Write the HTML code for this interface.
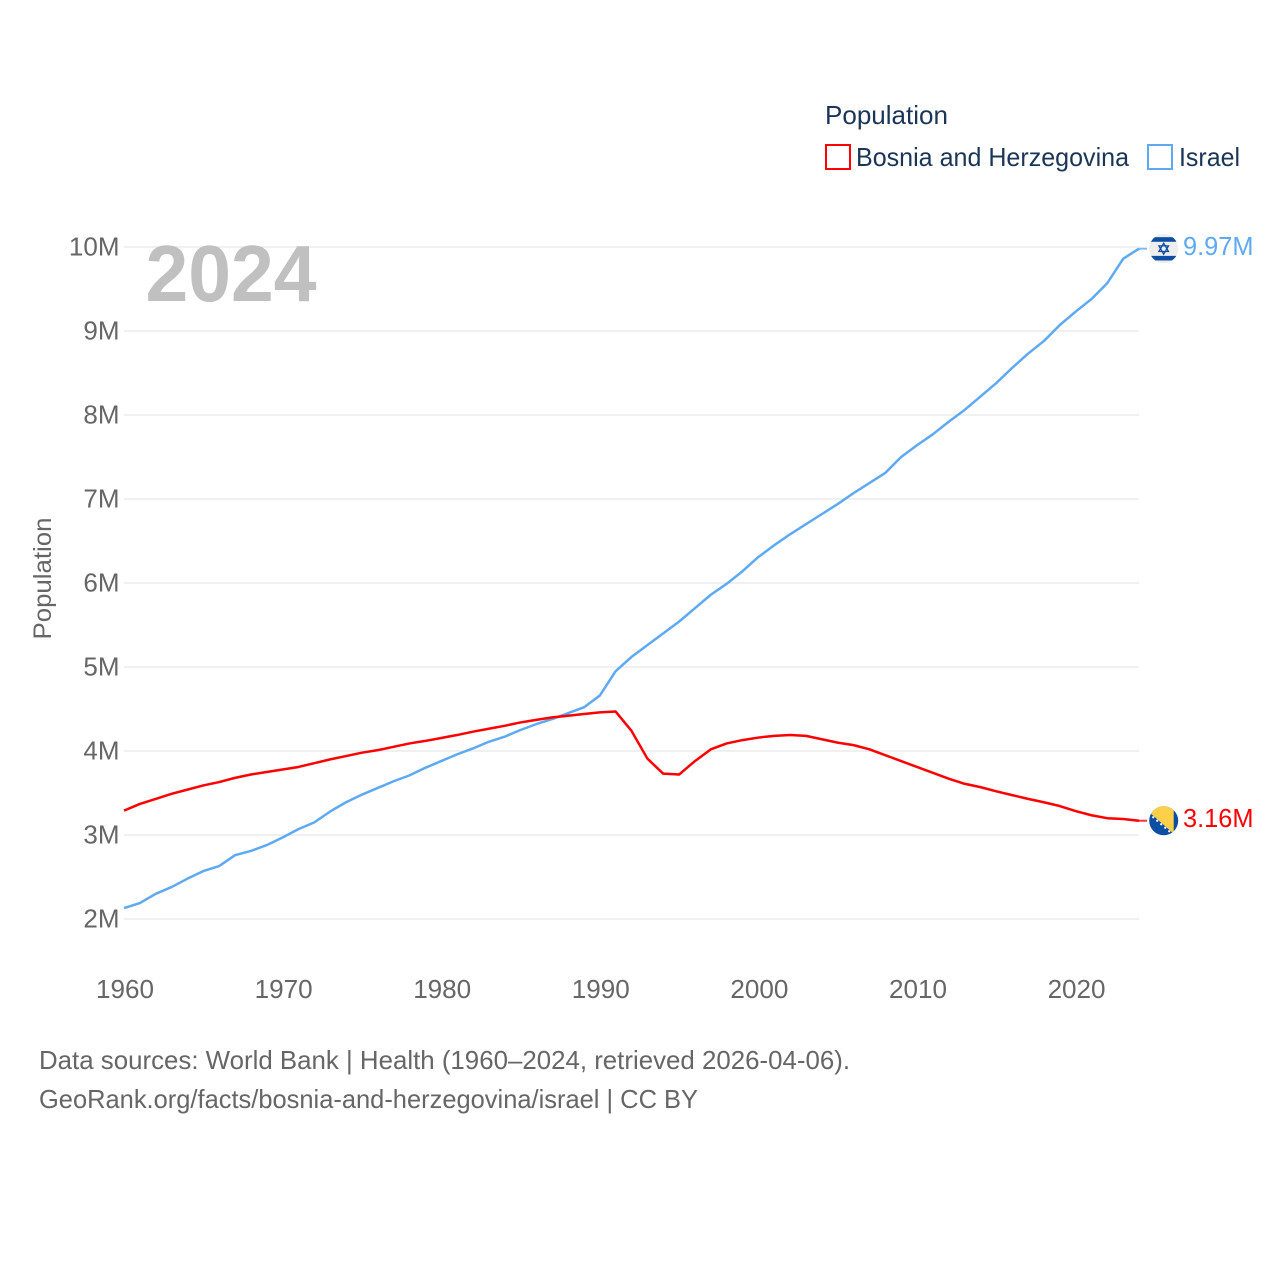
<!DOCTYPE html>
<html lang="en">
<head>
<meta charset="utf-8">
<title>Population: Bosnia and Herzegovina vs Israel</title>
<style>
  html, body { margin: 0; padding: 0; background: #fff; }
  svg { display: block; font-family: "Liberation Sans", sans-serif; }
</style>
</head>
<body>
<svg id="chart" xmlns="http://www.w3.org/2000/svg" width="1280" height="1280" viewBox="0 0 1280 1280">
  <rect x="0" y="0" width="1280" height="1280" fill="#ffffff"/>

  <g id="grid"></g>
  <g id="y-ticks"></g>
  <g id="x-ticks"></g>

  <text x="145.5" y="301" font-size="80" font-weight="700" fill="#bdbdbd" fill-opacity="0.95" textLength="171" lengthAdjust="spacingAndGlyphs">2024</text>

  <text transform="translate(51 639.5) rotate(-90)" font-size="25" fill="#666666" textLength="122" lengthAdjust="spacingAndGlyphs">Population</text>

  <g>
    <text x="825" y="124" font-size="26" fill="#1b3557" textLength="123" lengthAdjust="spacingAndGlyphs">Population</text>
    <rect x="826" y="145" width="24" height="24" fill="none" stroke="#ff0000" stroke-width="2"/>
    <text x="856" y="166" font-size="26" fill="#1b3557" textLength="273" lengthAdjust="spacingAndGlyphs">Bosnia and Herzegovina</text>
    <rect x="1148" y="145" width="24" height="24" fill="none" stroke="#5ea9f2" stroke-width="2"/>
    <text x="1179" y="166" font-size="26" fill="#1b3557" textLength="61" lengthAdjust="spacingAndGlyphs">Israel</text>
  </g>

  <g id="series"></g>

  <defs>
    <clipPath id="flag-clip"><circle cx="0" cy="0" r="14.5"/></clipPath>
  </defs>

  <g id="flag-israel">
    <g clip-path="url(#flag-clip)">
      <rect x="-15" y="-15" width="30" height="30" fill="#eeeeee"/>
      <rect x="-15" y="-11.5" width="30" height="4.6" fill="#0b4ea2"/>
      <rect x="-15" y="7.2" width="30" height="4.6" fill="#0b4ea2"/>
      <polygon points="0,-5.5 4.8,2.8 -4.8,2.8" fill="none" stroke="#0b4ea2" stroke-width="1.3"/>
      <polygon points="0,5.5 4.8,-2.8 -4.8,-2.8" fill="none" stroke="#0b4ea2" stroke-width="1.3"/>
    </g>
  </g>

  <g id="flag-bosnia">
    <g clip-path="url(#flag-clip)">
      <rect x="-15" y="-15" width="30" height="30" fill="#0b4ea2"/>
      <polygon points="-15,-16 10,-16 10,13 -15,-9" fill="#fed04a"/>
      <circle cx="-10.5" cy="-3.5" r="1.1" fill="#ffffff"/>
      <circle cx="-6.5" cy="0" r="1.1" fill="#ffffff"/>
      <circle cx="-2.5" cy="3.5" r="1.1" fill="#ffffff"/>
      <circle cx="1.5" cy="7" r="1.1" fill="#ffffff"/>
      <circle cx="5.5" cy="10.5" r="1.1" fill="#ffffff"/>
    </g>
  </g>

  <text id="end-label-israel" x="1183" font-size="26" fill="#5ea9f2" textLength="70.5" lengthAdjust="spacingAndGlyphs"></text>
  <text id="end-label-bosnia" x="1183" font-size="26" fill="#ff0000" textLength="70.5" lengthAdjust="spacingAndGlyphs"></text>

  <g>
    <text x="39" y="1069" font-size="26" fill="#666666" textLength="811" lengthAdjust="spacingAndGlyphs">Data sources: World Bank | Health (1960–2024, retrieved 2026-04-06).</text>
    <text x="39" y="1108" font-size="26" fill="#666666" textLength="659" lengthAdjust="spacingAndGlyphs">GeoRank.org/facts/bosnia-and-herzegovina/israel | CC BY</text>
  </g>
</svg>

<script>
const years = [1960,1961,1962,1963,1964,1965,1966,1967,1968,1969,1970,1971,1972,1973,1974,1975,1976,1977,1978,1979,1980,1981,1982,1983,1984,1985,1986,1987,1988,1989,1990,1991,1992,1993,1994,1995,1996,1997,1998,1999,2000,2001,2002,2003,2004,2005,2006,2007,2008,2009,2010,2011,2012,2013,2014,2015,2016,2017,2018,2019,2020,2021,2022,2023,2024];

// Population in millions
const israelValues = [2.13,2.19,2.30,2.38,2.48,2.57,2.63,2.76,2.81,2.88,2.97,3.07,3.15,3.28,3.39,3.48,3.56,3.64,3.71,3.80,3.88,3.96,4.03,4.11,4.17,4.25,4.32,4.38,4.45,4.52,4.66,4.95,5.12,5.26,5.40,5.54,5.70,5.86,5.99,6.14,6.31,6.45,6.58,6.70,6.82,6.94,7.07,7.19,7.31,7.50,7.64,7.77,7.92,8.06,8.22,8.38,8.56,8.73,8.88,9.07,9.23,9.38,9.57,9.86,9.98];
const bosniaValues = [3.29,3.37,3.43,3.49,3.54,3.59,3.63,3.68,3.72,3.75,3.78,3.81,3.855,3.90,3.94,3.98,4.01,4.05,4.09,4.12,4.155,4.19,4.23,4.265,4.30,4.34,4.37,4.40,4.42,4.44,4.46,4.47,4.24,3.91,3.73,3.72,3.88,4.02,4.09,4.13,4.16,4.18,4.19,4.18,4.14,4.10,4.07,4.02,3.95,3.88,3.81,3.74,3.67,3.61,3.57,3.52,3.475,3.43,3.39,3.345,3.285,3.235,3.20,3.19,3.17];

const yTickValues = [2,3,4,5,6,7,8,9,10];
const yTickLabels = ["2M","3M","4M","5M","6M","7M","8M","9M","10M"];
const xTickValues = [1960,1970,1980,1990,2000,2010,2020];
const xTickLabels = ["1960","1970","1980","1990","2000","2010","2020"];
const israelEndLabel = "9.97M";
const bosniaEndLabel = "3.16M";

const NS = "http://www.w3.org/2000/svg";
function xScale(year) { return 124 + (year - 1960) * (1139 - 124) / (2024 - 1960); }
function yScale(v) { return 919 - (v - 2) * (919 - 247) / 8; }
function pathFor(values) {
  return values.map(function (v, i) {
    return (i ? "L" : "M") + xScale(years[i]).toFixed(2) + " " + yScale(v).toFixed(2);
  }).join(" ");
}

const gridGroup = document.getElementById("grid");
const yTickGroup = document.getElementById("y-ticks");
const xTickGroup = document.getElementById("x-ticks");
const seriesGroup = document.getElementById("series");

yTickValues.forEach(function (v, i) {
  const line = document.createElementNS(NS, "line");
  
  
  line.setAttribute("x1", 124);
  line.setAttribute("x2", 1139);
  line.setAttribute("y1", yScale(v));
  line.setAttribute("y2", yScale(v));
  line.setAttribute("stroke", "#e8e8e8");
  line.setAttribute("stroke-width", "1.2");
  gridGroup.appendChild(line);

  const label = document.createElementNS(NS, "text");
  
  
  label.setAttribute("x", 119.5);
  label.setAttribute("y", yScale(v) + 8.5);
  label.setAttribute("text-anchor", "end");
  label.setAttribute("font-size", "26");
  label.setAttribute("fill", "#666666");
  label.textContent = yTickLabels[i];
  yTickGroup.appendChild(label);
});

xTickValues.forEach(function (yr, i) {
  const label = document.createElementNS(NS, "text");
  
  
  label.setAttribute("x", xScale(yr) + 1);
  label.setAttribute("y", 998);
  label.setAttribute("text-anchor", "middle");
  label.setAttribute("font-size", "25.5");
  label.setAttribute("fill", "#666666");
  label.setAttribute("textLength", "58");
  label.setAttribute("lengthAdjust", "spacingAndGlyphs");
  label.textContent = xTickLabels[i];
  xTickGroup.appendChild(label);
});

const israelLine = document.createElementNS(NS, "path");


israelLine.setAttribute("d", pathFor(israelValues));
israelLine.setAttribute("fill", "none");
israelLine.setAttribute("stroke", "#5ea9f2");
israelLine.setAttribute("stroke-width", "2.5");
israelLine.setAttribute("stroke-linejoin", "round");
seriesGroup.appendChild(israelLine);

const bosniaLine = document.createElementNS(NS, "path");


bosniaLine.setAttribute("d", pathFor(bosniaValues));
bosniaLine.setAttribute("fill", "none");
bosniaLine.setAttribute("stroke", "#ff0000");
bosniaLine.setAttribute("stroke-width", "2.5");
bosniaLine.setAttribute("stroke-linejoin", "round");
seriesGroup.appendChild(bosniaLine);

function placeEnd(values, color, flagId, labelId, labelText, connectorName) {
  const last = values[values.length - 1];
  const y = yScale(last);
  const x = xScale(years[years.length - 1]);
  const connector = document.createElementNS(NS, "line");
  
  
  connector.setAttribute("x1", x);
  connector.setAttribute("x2", x + 8);
  connector.setAttribute("y1", y);
  connector.setAttribute("y2", y);
  connector.setAttribute("stroke", color);
  connector.setAttribute("stroke-width", "2");
  connector.setAttribute("stroke-opacity", "0.8");
  seriesGroup.appendChild(connector);
  document.getElementById(flagId).setAttribute("transform", "translate(1163.7 " + y + ")");
  const label = document.getElementById(labelId);
  label.setAttribute("y", y + 6.5);
  label.textContent = labelText;
}
placeEnd(israelValues, "#5ea9f2", "flag-israel", "end-label-israel", israelEndLabel, "israel-end-connector");
placeEnd(bosniaValues, "#ff0000", "flag-bosnia", "end-label-bosnia", bosniaEndLabel, "bosnia-end-connector");
</script>
</body>
</html>
